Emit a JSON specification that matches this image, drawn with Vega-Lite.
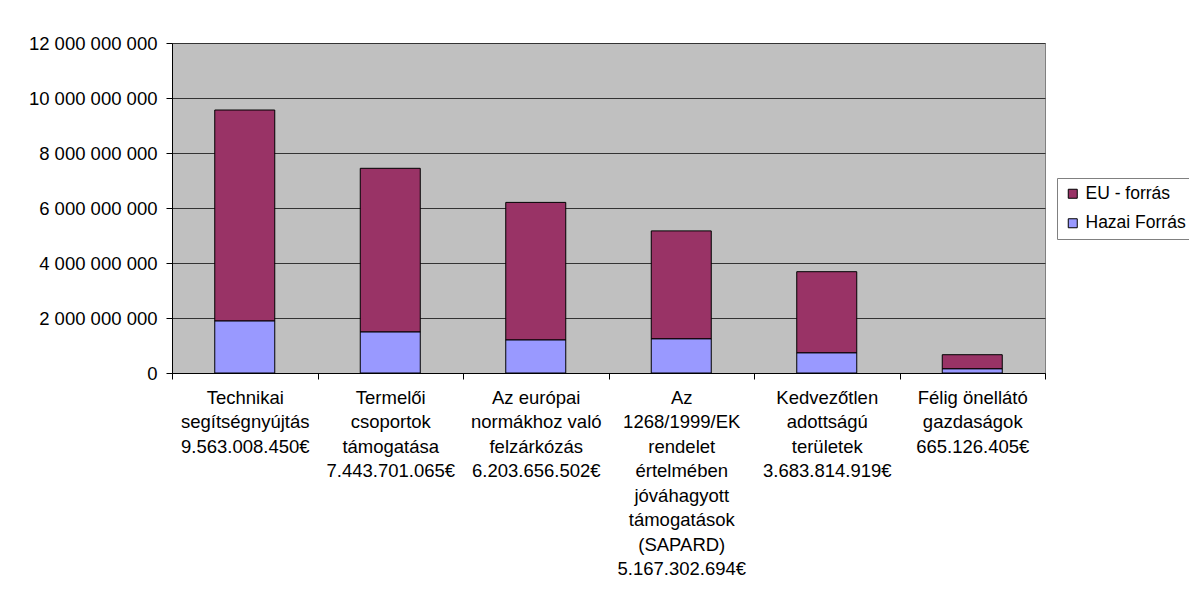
{
  "$schema": "https://vega.github.io/schema/vega-lite/v6.json",
  "width": 873,
  "height": 330,
  "autosize": {"type": "none"},
  "padding": {"left": 172, "top": 43, "right": 144, "bottom": 226},
  "background": "white",
  "config": {
    "font": "Liberation Sans",
    "locale": {"number": {"decimal": ",", "thousands": " ", "grouping": [3], "currency": ["", "€"]}},
    "view": {"fill": "#C0C0C0", "stroke": "#808080", "strokeWidth": 1}
  },
  "data": {
    "values": [
      {"cat": "Technikai|segítségnyújtás|9.563.008.450€", "source": "EU - forrás", "value": 7673008450},
      {"cat": "Technikai|segítségnyújtás|9.563.008.450€", "source": "Hazai Forrás", "value": 1890000000},
      {"cat": "Termelői|csoportok|támogatása|7.443.701.065€", "source": "EU - forrás", "value": 5953701065},
      {"cat": "Termelői|csoportok|támogatása|7.443.701.065€", "source": "Hazai Forrás", "value": 1490000000},
      {"cat": "Az európai|normákhoz való|felzárkózás|6.203.656.502€", "source": "EU - forrás", "value": 5003656502},
      {"cat": "Az európai|normákhoz való|felzárkózás|6.203.656.502€", "source": "Hazai Forrás", "value": 1200000000},
      {"cat": "Az|1268/1999/EK|rendelet|értelmében|jóváhagyott|támogatások|(SAPARD)|5.167.302.694€", "source": "EU - forrás", "value": 3927302694},
      {"cat": "Az|1268/1999/EK|rendelet|értelmében|jóváhagyott|támogatások|(SAPARD)|5.167.302.694€", "source": "Hazai Forrás", "value": 1240000000},
      {"cat": "Kedvezőtlen|adottságú|területek|3.683.814.919€", "source": "EU - forrás", "value": 2953814919},
      {"cat": "Kedvezőtlen|adottságú|területek|3.683.814.919€", "source": "Hazai Forrás", "value": 730000000},
      {"cat": "Félig önellátó|gazdaságok|665.126.405€", "source": "EU - forrás", "value": 515126405},
      {"cat": "Félig önellátó|gazdaságok|665.126.405€", "source": "Hazai Forrás", "value": 150000000}
    ]
  },
  "mark": {"type": "bar", "width": 60, "stroke": "black", "strokeWidth": 1},
  "encoding": {
    "x": {
      "field": "cat",
      "type": "nominal",
      "sort": null,
      "scale": {"paddingInner": 0, "paddingOuter": 0},
      "axis": {
        "title": null,
        "labelAngle": 0,
        "labelExpr": "split(datum.label, '|')",
        "labelFontSize": 18.5,
        "labelColor": "black",
        "labelLineHeight": 24.5,
        "labelPadding": 9,
        "labelLimit": 0,
        "labelOverlap": false,
        "tickBand": "extent",
        "tickSize": 6,
        "tickColor": "black",
        "domainColor": "black",
        "grid": false
      }
    },
    "y": {
      "field": "value",
      "type": "quantitative",
      "stack": "zero",
      "scale": {"domain": [0, 12000000000], "nice": false},
      "axis": {
        "title": null,
        "values": [0, 2000000000, 4000000000, 6000000000, 8000000000, 10000000000, 12000000000],
        "format": ",d",
        "labelFontSize": 18.5,
        "labelColor": "black",
        "labelPadding": 9,
        "labelLimit": 0,
        "tickSize": 6,
        "tickColor": "black",
        "domainColor": "black",
        "grid": true,
        "gridColor": "#333333",
        "gridOpacity": 1
      }
    },
    "color": {
      "field": "source",
      "type": "nominal",
      "scale": {"domain": ["EU - forrás", "Hazai Forrás"], "range": ["#993366", "#9999FF"]},
      "legend": {
        "title": null,
        "orient": "none",
        "legendX": 885,
        "legendY": 135,
        "symbolType": "square",
        "symbolSize": 81,
        "symbolStrokeColor": "black",
        "symbolStrokeWidth": 1,
        "labelFontSize": 17.5,
        "labelColor": "black",
        "labelOffset": 4,
        "labelLimit": 0,
        "rowPadding": 10.5,
        "padding": 7,
        "strokeColor": "#808080",
        "fillColor": "white"
      }
    },
    "order": {"field": "source", "sort": "descending"}
  }
}
